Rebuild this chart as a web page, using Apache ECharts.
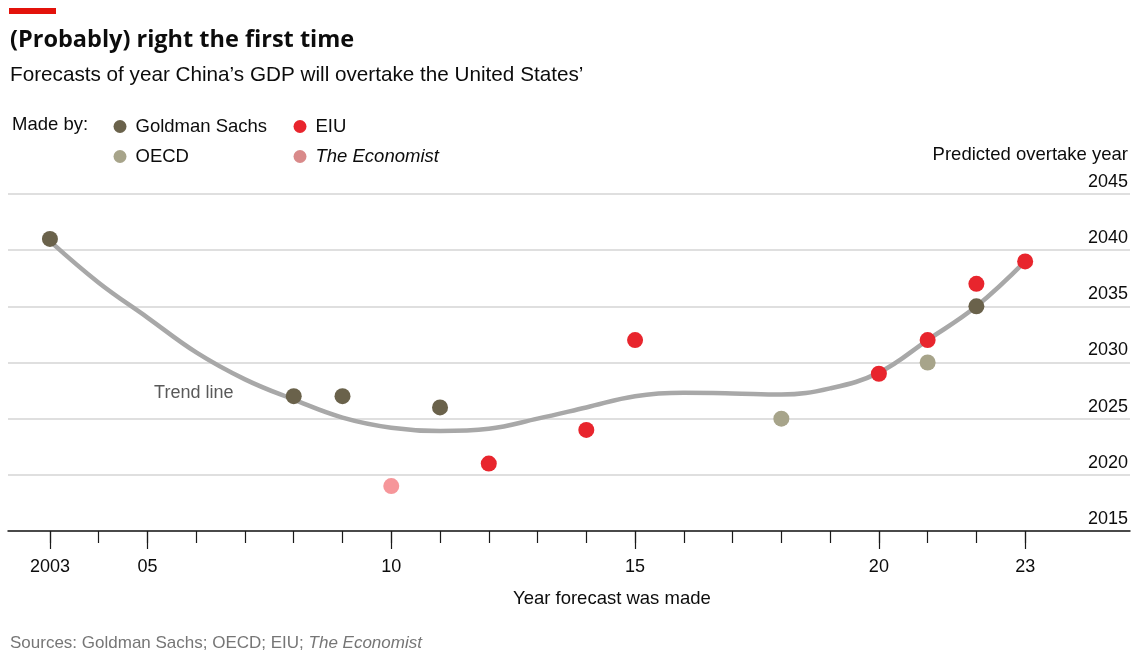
<!DOCTYPE html>
<html>
<head>
<meta charset="utf-8">
<script src="https://cdn.jsdelivr.net/npm/echarts@6/dist/echarts.min.js"></script>
<style>
html, body { margin: 0; padding: 0; background: #fff; }
#main { width: 1146px; height: 668px; }
</style>
</head>
<body>
<div id="main"></div>
<script>
// forecasts: [year forecast was made, predicted overtake year]
const goldman = [[2003, 2041], [2008, 2027], [2009, 2027], [2011, 2026], [2022, 2035]];
const oecd = [[2018, 2025], [2021, 2030]];
const eiu = [[2012, 2021], [2014, 2024], [2015, 2032], [2020, 2029], [2021, 2032], [2022, 2037], [2023, 2039]];
const economist = [[2010, 2019]];

// trend line
const trend = [
	[2003, 2040.8], [2004, 2037.1], [2005, 2034.0], [2006, 2030.9], [2007, 2028.5],
	[2008, 2026.7], [2009, 2025.1], [2010, 2024.2], [2011, 2023.9], [2012, 2024.1],
	[2013, 2025.0], [2014, 2026.0], [2015, 2027.0], [2016, 2027.3], [2017, 2027.25],
	[2018, 2027.15], [2019, 2027.7], [2020, 2029.1], [2021, 2032.0], [2022, 2035.0],
	[2023, 2039.0]
];

const xTickYears = [2003, 2004, 2005, 2006, 2007, 2008, 2009, 2010, 2011, 2012, 2013,
	2014, 2015, 2016, 2017, 2018, 2019, 2020, 2021, 2022, 2023];
const xLabelYears = [2003, 2005, 2010, 2015, 2020, 2023];
const xLabels = ['2003', '05', '10', '15', '20', '23'];

const FONT = '"Liberation Sans", Arial, sans-serif';

const chart = echarts.init(document.getElementById('main'));

const dot = (name, data, color) => ({
	name: name,
	type: 'scatter',
	data: data,
	symbolSize: 16,
	itemStyle: { color: color, opacity: 1 },
	z: 5
});

const option = {
	animation: false,
	textStyle: { fontFamily: FONT },
	grid: { left: 8, right: 16, top: 194, bottom: 137 },
	graphic: [
		{ type: 'rect', left: 9, top: 8, shape: { width: 47, height: 6 }, style: { fill: '#e3120b' } },
		{
			type: 'text', left: 10, top: 28,
			style: { text: '(Probably) right the first time', font: 'bold 23.5px "Open Sans", sans-serif', fill: '#0c0c0c' }
		},
		{
			type: 'text', left: 10, top: 65,
			style: { text: 'Forecasts of year China\u2019s GDP will overtake the United States\u2019', font: '20.7px ' + FONT, fill: '#0c0c0c' }
		},
		{
			type: 'text', left: 12, top: 115,
			style: { text: 'Made by:', font: '18.5px ' + FONT, fill: '#0c0c0c' }
		},
		{
			type: 'text', left: 513, top: 589,
			style: { text: 'Year forecast was made', font: '18.5px ' + FONT, fill: '#0c0c0c', align: 'center' }
		},
		{
			type: 'text', left: 10, top: 635,
			style: {
				text: 'Sources: Goldman Sachs; OECD; EIU; {i|The Economist}',
				font: '17px ' + FONT, fill: '#767676',
				rich: { i: { fontStyle: 'italic', fontFamily: FONT, fontSize: 17, fill: '#767676' } }
			}
		}
	],
	legend: [
		{
			orient: 'vertical', left: 108.5, top: 112, itemGap: 11,
			icon: 'circle', itemWidth: 13, itemHeight: 13,
			textStyle: { fontFamily: FONT, fontSize: 18.5, color: '#0c0c0c', padding: [0, 0, 0, 4] },
			data: ['Goldman Sachs', 'OECD']
		},
		{
			orient: 'vertical', left: 288.5, top: 112, itemGap: 11,
			icon: 'circle', itemWidth: 13, itemHeight: 13,
			textStyle: {
				fontFamily: FONT, fontSize: 18.5, color: '#0c0c0c', padding: [0, 0, 0, 4],
				rich: { i: { fontStyle: 'italic', fontFamily: FONT, fontSize: 18.5, color: '#0c0c0c' } }
			},
			formatter: (name) => name === 'The Economist' ? '{i|The Economist}' : name,
			data: ['EIU', { name: 'The Economist', itemStyle: { color: '#d98a8a' } }]
		}
	],
	xAxis: [
		{
			type: 'value', min: 2002.14, max: 2025.15,
			axisLine: { lineStyle: { color: '#1a1a1a', width: 1.5 } },
			axisTick: { customValues: xTickYears, length: 12, lineStyle: { color: '#1a1a1a', width: 1.2 } },
			axisLabel: {
				customValues: xLabelYears, margin: 27, fontFamily: FONT, fontSize: 18, color: '#0c0c0c',
				formatter: (v) => xLabels[xLabelYears.indexOf(Math.round(v))]
			},
			splitLine: { show: false }
		},
		{
			type: 'value', min: 2002.14, max: 2025.15, position: 'bottom',
			axisLine: { show: false },
			axisTick: { customValues: xLabelYears, length: 18, lineStyle: { color: '#1a1a1a', width: 1.2 } },
			axisLabel: { show: false },
			splitLine: { show: false }
		}
	],
	yAxis: {
		type: 'value', min: 2015, max: 2045, interval: 5, position: 'right',
		name: 'Predicted overtake year', nameLocation: 'end', nameGap: 39,
		nameTextStyle: { fontFamily: FONT, fontSize: 18.5, color: '#0c0c0c', align: 'right', verticalAlign: 'middle', padding: [0, 2, 0, 0] },
		axisLine: { show: false },
		axisTick: { show: false },
		axisLabel: {
			inside: true, margin: 2, verticalAlign: 'bottom', padding: [0, 0, 3, 0],
			fontFamily: FONT, fontSize: 18, color: '#0c0c0c',
			formatter: (v) => String(v)
		},
		splitLine: { lineStyle: { color: '#d4d4d4', width: 1.5 } }
	},
	series: [
		{
			name: 'Trend', type: 'line', data: trend, smooth: 0.4, showSymbol: false,
			lineStyle: { color: '#a8a8a8', width: 4.5 }, z: 2, silent: true,
			markPoint: {
				symbolSize: 0,
				label: { show: true, formatter: 'Trend line', fontFamily: FONT, fontSize: 18, color: '#595959' },
				data: [{ coord: [2005.95, 2027.3] }]
			}
		},
		dot('Goldman Sachs', goldman, '#6a624b'),
		dot('OECD', oecd, '#a7a48a'),
		dot('EIU', eiu, '#e8252d'),
		dot('The Economist', economist, '#f6969a')
	]
};

chart.setOption(option);
</script>
</body>
</html>
